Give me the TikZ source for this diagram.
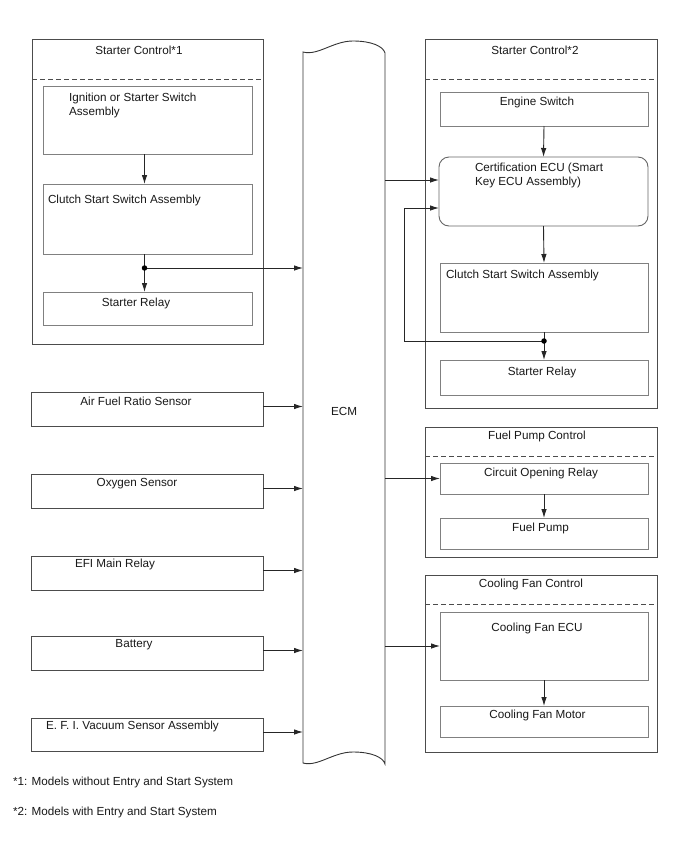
\documentclass[tikz,border=0pt]{standalone}
\usepackage{fontspec}
\setmainfont{Liberation Sans}
\usetikzlibrary{arrows.meta,calc,fit}
\begin{document}
\begin{tikzpicture}[x=1pt,y=-1pt,
  font=\fontsize{11.7}{14}\selectfont,
  outerbox/.style={draw=black!70,line width=0.9pt,inner sep=0pt,outer sep=0pt},
  innerbox/.style={draw=black!50,line width=0.9pt,inner sep=0pt,outer sep=0pt},
  roundbox/.style={innerbox,draw=black!60,rounded corners=10pt},
  sep/.style={draw=black!70,line width=0.8pt,dash pattern=on 5pt off 3pt},
  conn/.style={draw=black!85,line width=0.9pt},
  arr/.style={conn,-{Latex[length=9pt,width=5.5pt]}},
  dotnode/.style={circle,fill=black,inner sep=0pt,minimum size=5.5pt},
  txt/.style={inner sep=0pt,outer sep=0pt,text=black!90},
  ml/.style={txt,align=left}
]
\useasboundingbox (0,0) rectangle (688,852);
\fill[white] (0,0) rectangle (688,852);

% ---------- Starter Control *1 ----------
\node[outerbox,fit={(32,39) (263,344)}] (sc1) {};
\draw[sep] (sc1.west |- 0,79) -- (sc1.east |- 0,79);
\node[txt,anchor=base] (sc1t) at (139,54) {Starter Control*1};
\node[innerbox,fit={(43,86) (252,154)}] (ign) {};
\node[ml,anchor=base west] (ignt) at (69,115) {Ignition or Starter Switch\\Assembly};
\node[innerbox,fit={(43,184) (252,254)}] (clu1) {};
\node[txt,anchor=base west] (clu1t) at (48,203) {Clutch Start Switch Assembly};
\node[innerbox,fit={(43,292) (252,325)}] (rel1) {};
\node[txt,anchor=base] (rel1t) at (136,306) {Starter Relay};

% ---------- left inputs ----------
\node[innerbox,draw=black!70,fit={(31,392) (263,426)}] (afr) {};
\node[txt,anchor=base] (afrt) at (136,405) {Air Fuel Ratio Sensor};
\node[innerbox,draw=black!70,fit={(31,474) (263,508)}] (oxy) {};
\node[txt,anchor=base] (oxyt) at (137,486) {Oxygen Sensor};
\node[innerbox,draw=black!70,fit={(31,556) (263,590)}] (efi) {};
\node[txt,anchor=base] (efit) at (115,567) {EFI Main Relay};
\node[innerbox,draw=black!70,fit={(31,636) (263,670)}] (bat) {};
\node[txt,anchor=base] (batt) at (134,647) {Battery};
\node[innerbox,draw=black!70,fit={(31,718) (263,751)}] (vac) {};
\node[txt,anchor=base west] (vact) at (46,729) {E. F. I. Vacuum Sensor Assembly};

% ---------- ECM ----------
\node[inner sep=0pt,outer sep=0pt,fit={(303,52) (385,763)}] (ecm) {};
\draw[draw=black!80,line width=0.9pt]
  (303,52) .. controls (318,56) and (333,41) .. (353,41)
  .. controls (371,41) and (383,46) .. (385,53)
  -- (385,764)
  .. controls (383,757) and (371,752) .. (353,752)
  .. controls (333,752) and (318,767) .. (303,763) -- cycle;
\node[txt,anchor=base] (ecmt) at (344,415) {ECM};

% ---------- Starter Control *2 ----------
\node[outerbox,fit={(425,39) (657,408)}] (sc2) {};
\draw[sep] (sc2.west |- 0,79) -- (sc2.east |- 0,79);
\node[txt,anchor=base] (sc2t) at (535,54) {Starter Control*2};
\node[innerbox,fit={(440,92) (648,126)}] (eng) {};
\node[txt,anchor=base] (engt) at (537,105) {Engine Switch};
\node[roundbox,fit={(439,157) (648,226)}] (cert) {};
\node[ml,anchor=base west] (certt) at (475,185) {Certification ECU (Smart\\Key ECU Assembly)};
\node[innerbox,fit={(440,263) (648,332)}] (clu2) {};
\node[txt,anchor=base west] (clu2t) at (446,278) {Clutch Start Switch Assembly};
\node[innerbox,fit={(440,360) (648,395)}] (rel2) {};
\node[txt,anchor=base] (rel2t) at (542,375) {Starter Relay};

% ---------- Fuel Pump Control ----------
\node[outerbox,fit={(425,427) (657,557)}] (fpc) {};
\draw[sep] (fpc.west |- 0,456) -- (fpc.east |- 0,456);
\node[txt,anchor=base] (fpct) at (537,439.5) {Fuel Pump Control};
\node[innerbox,fit={(440,463) (648,494)}] (cor) {};
\node[txt,anchor=base] (cort) at (541,476) {Circuit Opening Relay};
\node[innerbox,fit={(440,518) (648,549)}] (pump) {};
\node[txt,anchor=base] (pumpt) at (540.5,531) {Fuel Pump};

% ---------- Cooling Fan Control ----------
\node[outerbox,fit={(425,575) (657,752)}] (cfc) {};
\draw[sep] (cfc.west |- 0,604) -- (cfc.east |- 0,604);
\node[txt,anchor=base] (cfct) at (531,587) {Cooling Fan Control};
\node[innerbox,fit={(440,612) (648,680)}] (cfe) {};
\node[txt,anchor=base] (cfet) at (537,631) {Cooling Fan ECU};
\node[innerbox,fit={(440,706) (648,737)}] (cfm) {};
\node[txt,anchor=base] (cfmt) at (537.5,718.5) {Cooling Fan Motor};

% ---------- connectors: left ----------
\draw[arr] ([xshift=-3pt]ign.south) -- ([xshift=-3pt]clu1.north);
\coordinate (j1) at (144.5,268);
\draw[conn] ([xshift=-3pt]clu1.south) -- (j1);
\draw[arr] (j1) -- ([xshift=-3pt]rel1.north);
\draw[arr] (j1) -- (j1 -| ecm.west);
\node[dotnode] (j1d) at (j1) {};
\foreach \b in {afr,oxy,efi,bat,vac}
  \draw[arr] ([yshift=2.5pt]\b.east) -- ([yshift=2.5pt]\b.east -| ecm.west);

% ---------- connectors: right ----------
\coordinate (certin1) at ([yshift=11.5pt]cert.west);
\coordinate (certin2) at ([yshift=-16.5pt]cert.west);
\draw[arr] (certin1 -| ecm.east) -- (certin1);
\draw[arr] (eng.south) -- (cert.north);
\draw[arr] (cert.south) -- (clu2.north);
\coordinate (j2) at (544,341);
\coordinate (loopx) at (404,0);
\draw[conn] (clu2.south) -- (j2);
\draw[arr] (j2) -- (rel2.north);
\draw[arr] (j2) -- (j2 -| loopx) |- (certin2);
\node[dotnode] (j2d) at (j2) {};

\draw[arr] (cor.west -| ecm.east) -- (cor.west);
\draw[arr] (cor.south) -- (pump.north);
\draw[arr] (cfe.west -| ecm.east) -- (cfe.west);
\draw[arr] (cfe.south) -- (cfm.north);

% ---------- footnotes ----------
\node[txt,anchor=base west] (fn1) at (13,785) {*1: Models without Entry and Start System};
\node[txt,anchor=base west] (fn2) at (13,815) {*2: Models with Entry and Start System};
\end{tikzpicture}
\end{document}
